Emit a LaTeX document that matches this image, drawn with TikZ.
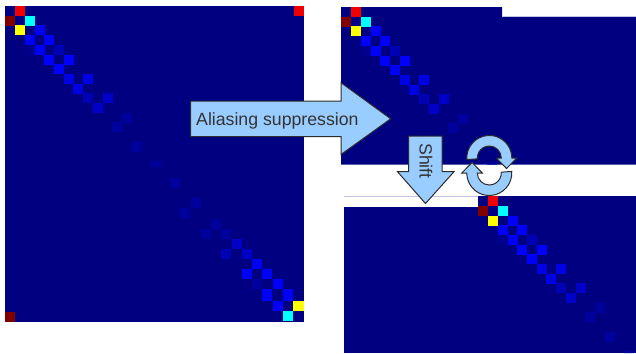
\documentclass[tikz,border=0pt]{standalone}
\usepackage{fontspec}
\setmainfont{Liberation Sans}
\usetikzlibrary{calc}
\definecolor{jnavy}{RGB}{0,0,128}
\definecolor{jred}{RGB}{240,0,0}
\definecolor{jdred}{RGB}{128,0,0}
\definecolor{jcyan}{RGB}{0,255,255}
\definecolor{jyel}{RGB}{255,255,0}
\definecolor{bA}{RGB}{0,0,250}
\definecolor{bB}{RGB}{0,0,228}
\definecolor{bC}{RGB}{0,0,200}
\definecolor{bD}{RGB}{0,0,180}
\definecolor{bE}{RGB}{0,0,156}
\definecolor{bF}{RGB}{0,0,140}
\definecolor{lblue}{RGB}{153,204,255}
\definecolor{aborder}{RGB}{45,45,45}
\definecolor{tcol}{RGB}{51,51,51}
\definecolor{lav}{RGB}{195,195,228}
\newcommand\mxrect[5]{\fill[#5] (#1,#2) rectangle ++(#3,#4);}
\newcommand\mxcell[3]{\fill[#3] (#1,#2) rectangle ++(10,10);}
\newcommand\matcells{%
\mxcell{15}{6}{jred}
\mxcell{5}{16}{jdred}
\mxcell{25}{16}{jcyan}
\mxcell{15}{25.5}{jyel}
\mxcell{34.5}{25.5}{bA}
\mxcell{25}{35}{bA}
\mxcell{44}{35}{bA}
\mxcell{25}{45}{bF}
\mxcell{34.5}{45}{bA}
\mxcell{54}{45}{bD}
\mxcell{44}{54.5}{bA}
\mxcell{63.5}{54.5}{bA}
\mxcell{54}{64}{bA}
\mxcell{63.5}{74}{bB}
\mxcell{83}{74}{bB}
\mxcell{73}{83.5}{bB}
\mxcell{83}{93}{bD}
\mxcell{102.5}{93}{bC}
\mxcell{92.5}{102.5}{bC}
\mxcell{122}{112.5}{bE}
\mxcell{112}{122}{bE}
\mxcell{131.5}{141.5}{bE}
\mxrect{150.5}{160.7}{10}{6.6}{bE}
\mxcell{170}{178}{bE}
\mxcell{190.5}{198}{bE}
\mxcell{180}{208}{bE}
\mxcell{211}{219}{bE}
\mxcell{201}{229}{bE}
\mxcell{221}{229}{bE}
\mxcell{231.7}{239.3}{bC}
\mxcell{221}{249.3}{bD}
\mxcell{241.7}{249.3}{bC}
\mxcell{252.3}{259}{bA}
\mxcell{241.7}{269}{bA}
\mxcell{262.3}{269}{bA}
\mxcell{252.3}{279}{bE}
\mxcell{272.7}{279}{bA}
\mxrect{262.3}{289.3}{10}{11.7}{bA}
\mxrect{283}{289.3}{10.3}{11.7}{bA}
\mxcell{272.7}{301}{bA}
\mxrect{293.3}{301}{10.7}{10}{jyel}
\mxcell{283}{311}{jcyan}
\mxcell{294}{6}{jred}
\mxcell{5}{312}{jdred}
}
\begin{document}
\begin{tikzpicture}[x=1pt,y=-1pt,
  arrowbox/.style={fill=lblue, draw=aborder, line width=1pt, line join=miter},
  lbl/.style={text=tcol, inner sep=0pt, font=\fontsize{17.7}{20}\selectfont}]
\useasboundingbox (0,0) rectangle (636,353);
\fill[white] (0,0) rectangle (636,353);
% left matrix
\fill[jnavy] (5,6) rectangle (304,322);
\matcells
% top right matrix
\begin{scope}
\clip (341,7) -- (502,7) -- (502,17) -- (636,17) -- (636,164.5) -- (341,164.5) -- cycle;
\fill[jnavy] (341,7) rectangle (636,165);
\begin{scope}[shift={(336,1)}]
\matcells
\end{scope}
\end{scope}
\draw[lav, line width=0.8pt] (502,16.6) -- (636,16.6);
% bottom right matrix
\begin{scope}
\clip (478,196) -- (636,196) -- (636,353) -- (344,353) -- (344,207) -- (478,207) -- cycle;
\fill[jnavy] (344,196) rectangle (636,353);
\begin{scope}[shift={(473,190)}]
\matcells
\end{scope}
\end{scope}
\draw[lav, line width=0.8pt] (344,196.4) -- (478,196.4);
% aliasing arrow
\draw[arrowbox] (190.7,101) -- (341,101) -- (341,82.7) -- (390.7,118.8) -- (341,154.5) -- (341,136.7) -- (190.7,136.7) -- cycle;
\node[lbl, anchor=base west] (alias) at (196,125) {Aliasing suppression};
% shift arrow
\draw[arrowbox] (408.5,136) -- (442,136) -- (442,171.7) -- (454,171.7) -- (425.5,203.5) -- (397.5,171.7) -- (408.5,171.7) -- cycle;
\node[lbl, rotate=-90, anchor=base west] (shift) at (419.5,143) {Shift};
% circular arrows
\coordinate (U) at (489.3,158);
\coordinate (L) at (489.3,173);
\draw[arrowbox] ($(U)+(176:22.5)$) arc[start angle=176,end angle=360,radius=22.5]
  -- ($(U)+(27.5,0)$) -- ($(U)+(17.25,10.5)$) -- ($(U)+(7,0)$) -- ($(U)+(12,0)$)
  arc[start angle=360,end angle=176,radius=12] -- cycle;
\draw[arrowbox] ($(L)+(-4:22.5)$) arc[start angle=-4,end angle=180,radius=22.5]
  -- ($(L)+(-27.5,0)$) -- ($(L)+(-17.25,-10.5)$) -- ($(L)+(-7,0)$) -- ($(L)+(-12,0)$)
  arc[start angle=180,end angle=-4,radius=12] -- cycle;
\end{tikzpicture}
\end{document}
